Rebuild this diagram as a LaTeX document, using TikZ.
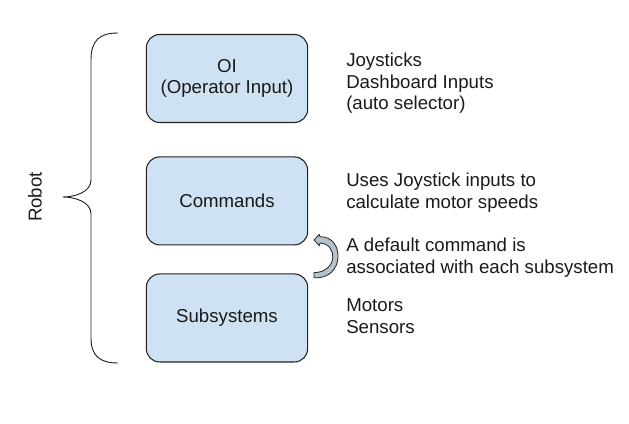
\documentclass[tikz,border=0pt]{standalone}
\usepackage{fontspec}
\setmainfont{Liberation Sans}
\usetikzlibrary{positioning}

\definecolor{boxfill}{HTML}{CFE2F3}
\definecolor{boxline}{HTML}{222222}
\definecolor{arrowfill}{HTML}{B4C2CD}
\definecolor{inktext}{HTML}{1A1A1A}

\begin{document}
\begin{tikzpicture}[x=0.75pt,y=-0.75pt,
  every node/.style={font=\fontsize{14}{16.1}\selectfont,text=inktext},
  layer/.style={draw=boxline,line width=0.8pt,fill=boxfill,rounded corners=10pt,
    minimum width=121pt,minimum height=66pt,align=center,inner sep=0pt},
  note/.style={anchor=west,align=left,inner sep=0pt}]
\useasboundingbox (0,0) rectangle (629,424);
\node [layer] (oi) at (227,78.5) {OI\\(Operator Input)};
\node [layer,below=25pt of oi] (cmd) {Commands};
\node [layer,below=21pt of cmd] (sub) {Subsystems};
% brace round the three layers
\draw [boxline,line width=0.7pt] (118,33) .. controls (100,33) and (91,40) .. (91,60)
  -- (91,180) .. controls (91,192) and (75,197) .. (63,197)
  .. controls (75,197) and (91,202) .. (91,214)
  -- (91,338) .. controls (91,356) and (100,363) .. (118,363);
\node [rotate=90] (robot) at (35,197) {Robot};
% curved arrow from subsystems up to commands
\draw [boxline,line width=0.6pt,fill=arrowfill,line join=round]
  (314,272.7) .. controls (338,272) and (338,244) .. (320,243)
  -- (319.3,245.7) -- (314,240) -- (319.3,234.3) -- (320,236.7)
  .. controls (345,236) and (345,280) .. (314,277.7) -- cycle;
\node [note] (oinote) at (346,83.5) {Joysticks\\Dashboard Inputs\\(auto selector)};
\node [note] (cmdnote) at (346,192.5) {Uses Joystick inputs to\\calculate motor speeds};
\node [note] (assocnote) at (346,257.5) {A default command is\\associated with each subsystem};
\node [note] (subnote) at (346,316) {Motors\\Sensors};
\end{tikzpicture}
\end{document}
